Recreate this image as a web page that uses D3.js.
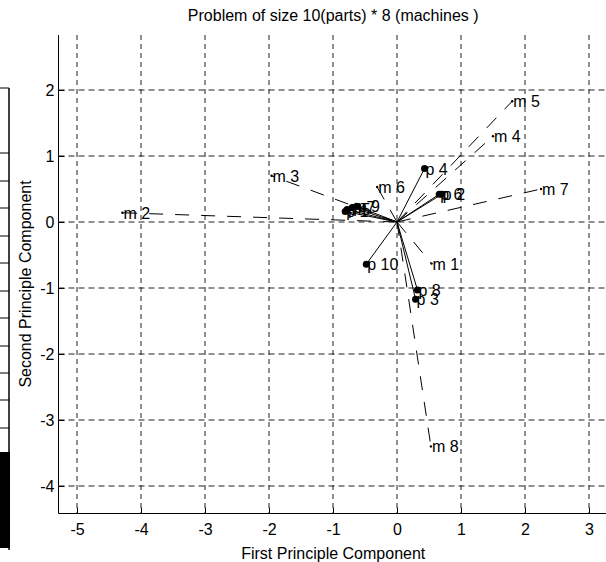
<!DOCTYPE html>
<html><head><meta charset="utf-8">
<script src="https://cdn.jsdelivr.net/npm/d3@7"></script>
<style>body{margin:0;background:#fff}svg{display:block}text{font-family:"Liberation Sans",Arial,Helvetica,sans-serif;fill:#000}</style>
</head><body>
<svg id="c" width="606" height="562"></svg>
<script>
const title = "Problem of size 10(parts) * 8 (machines )";
const xLabel = "First Principle Component";
const yLabel = "Second Principle Component";
const xTicks = [-5,-4,-3,-2,-1,0,1,2,3];
const yTicks = [-4,-3,-2,-1,0,1,2];
const partLabels = ["p 1","p 2","p 3","p 4","p 5","p 6","p 7","p 8","p 9","p 10"];
const partX = [-0.81, 0.70, 0.29, 0.43, -0.78, 0.66, -0.70, 0.32, -0.63, -0.48];
const partY = [0.16, 0.42, -1.17, 0.81, 0.19, 0.42, 0.22, -1.03, 0.24, -0.64];
const machLabels = ["m 1","m 2","m 3","m 4","m 5","m 6","m 7","m 8"];
const machX = [0.54, -4.29, -1.96, 1.50, 1.80, -0.31, 2.25, 0.53];
const machY = [-0.63, 0.14, 0.70, 1.30, 1.83, 0.53, 0.50, -3.40];

const FS = 16;
const svg = d3.select("#c");
const x = d3.scaleLinear().domain([-5,3]).range([77,589]);
const y = d3.scaleLinear().domain([-4,2]).range([486,90]);
const L = 58.5, R = 608, T = 35, B = 513.5;

// left-edge fragment of neighbouring figure
const stripY = [88,153,181,208,236,263,291,318,346,373,400,428];
svg.append("line").attr("x1",9).attr("x2",9).attr("y1",88).attr("y2",550).attr("stroke","#000").attr("stroke-width",1.5);
svg.selectAll("line.strip").data(stripY).join("line").attr("class","strip")
  .attr("x1",0).attr("x2",9).attr("y1",d=>d).attr("y2",d=>d).attr("stroke","#000");
svg.append("rect").attr("x",0).attr("y",452).attr("width",10).attr("height",96).attr("fill","#000");

svg.append("text").attr("x",(L+R)/2).attr("y",21).attr("text-anchor","middle").attr("font-size",FS).text(title);

const g = svg.append("g");
// grid
g.selectAll("line.gx").data(xTicks).join("line").attr("class","gx")
  .attr("x1",d=>x(d)).attr("x2",d=>x(d)).attr("y1",T).attr("y2",B)
  .attr("stroke","#222").attr("stroke-dasharray","5,4");
g.selectAll("line.gy").data(yTicks).join("line").attr("class","gy")
  .attr("x1",L).attr("x2",R).attr("y1",d=>y(d)).attr("y2",d=>y(d))
  .attr("stroke","#222").attr("stroke-dasharray","6,4");

// axes
const fmt = d => String(d);
const xa = d3.axisBottom(x).tickValues(xTicks).tickFormat(fmt).tickSizeInner(-6).tickSizeOuter(0);
const ya = d3.axisLeft(y).tickValues(yTicks).tickFormat(fmt).tickSizeInner(-6).tickSizeOuter(0);
const gx = svg.append("g").attr("transform",`translate(0,${B})`).call(xa);
const gy = svg.append("g").attr("transform",`translate(${L},0)`).call(ya);
gx.select(".domain").attr("d",`M${L},0H${R}`);
gy.select(".domain").attr("d",`M0,${T}V${B}`);
[gx,gy].forEach(a=>{a.attr("font-size",FS).attr("font-family","Liberation Sans, Arial, sans-serif");a.selectAll("path,line").attr("stroke","#000");});
gx.selectAll("text").attr("y",21).attr("dy",0);
gy.selectAll("text").attr("x",-4).attr("dy","0.35em");

svg.append("text").attr("x",(L+R)/2).attr("y",559).attr("text-anchor","middle").attr("font-size",FS).text(xLabel);
svg.append("text").attr("transform",`translate(31,284) rotate(-90)`).attr("text-anchor","middle").attr("font-size",FS).text(yLabel);

const plot = svg.append("g");
// machine vectors (dashed)
const mi = d3.range(machLabels.length);
plot.selectAll("line.m").data(mi).join("line").attr("class","m")
  .attr("x1",x(0)).attr("y1",y(0)).attr("x2",i=>x(machX[i])).attr("y2",i=>y(machY[i]))
  .attr("stroke","#000").attr("stroke-dasharray","14,12");
plot.selectAll("circle.m").data(mi).join("circle").attr("class","m")
  .attr("cx",i=>x(machX[i])).attr("cy",i=>y(machY[i])).attr("r",1.2).attr("fill","#000");
plot.selectAll("text.m").data(mi).join("text").attr("class","m")
  .attr("x",i=>x(machX[i])+1).attr("y",i=>y(machY[i])+6).attr("font-size",FS).text(i=>machLabels[i]);

// part vectors (solid)
const pi = d3.range(partLabels.length);
plot.selectAll("line.p").data(pi).join("line").attr("class","p")
  .attr("x1",x(0)).attr("y1",y(0)).attr("x2",i=>x(partX[i])).attr("y2",i=>y(partY[i]))
  .attr("stroke","#000").attr("stroke-width",1);
plot.selectAll("circle.p").data(pi).join("circle").attr("class","p")
  .attr("cx",i=>x(partX[i])).attr("cy",i=>y(partY[i])).attr("r",3.5).attr("fill","#000");
plot.selectAll("text.p").data(pi).join("text").attr("class","p")
  .attr("x",i=>x(partX[i])+1).attr("y",i=>y(partY[i])+6).attr("font-size",FS).text(i=>partLabels[i]);
</script>
</body></html>
